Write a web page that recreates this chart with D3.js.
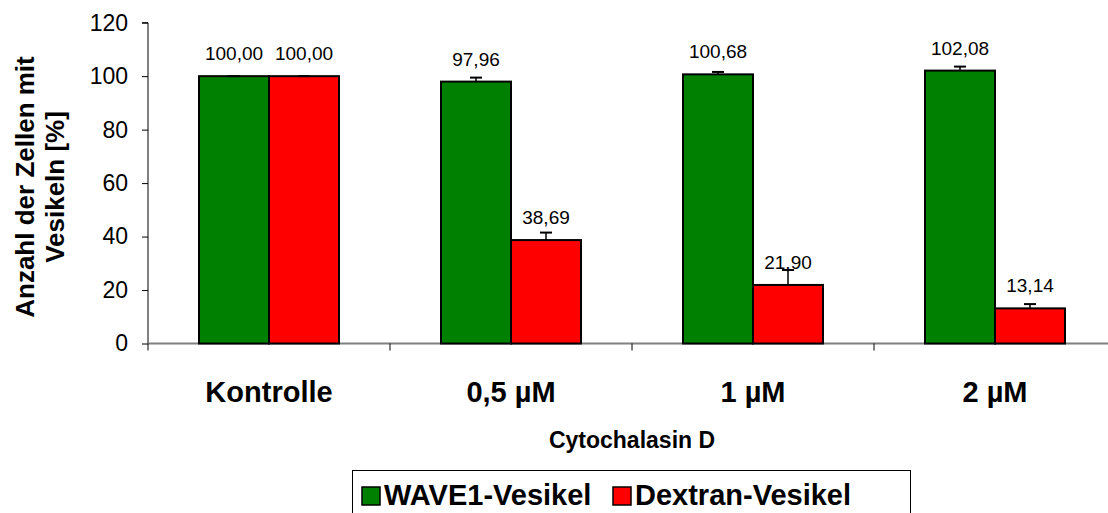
<!DOCTYPE html>
<html><head><meta charset="utf-8">
<script src="https://cdn.jsdelivr.net/npm/d3@7"></script>
<style>body{margin:0;background:#fff}svg{display:block}text{font-family:Arial,"Liberation Sans",sans-serif}</style>
</head><body>
<svg id="c" width="1108" height="513"></svg>
<script>
const categories = ["Kontrolle", "0,5 µM", "1 µM", "2 µM"];
const seriesNames = ["WAVE1-Vesikel", "Dextran-Vesikel"];
const wave1 = [100.00, 97.96, 100.68, 102.08];
const dextran = [100.00, 38.69, 21.90, 13.14];
const wave1Err = [0, 1.5, 0.9, 1.5];
const dextranErr = [0, 2.8, 5.6, 1.6];
const yTicks = [0, 20, 40, 60, 80, 100, 120];
const colors = ["#008000", "#ff0000"];

const svg = d3.select("#c");
const left = 148, catW = 242, y0 = 343.5, yTop = 22.7;
const x = d3.scaleBand().domain(categories).range([left, left + catW * categories.length]).paddingInner(0).paddingOuter(0);
const xs = d3.scaleBand().domain([0, 1]).range([0, 140]);
const y = d3.scaleLinear().domain([0, 120]).range([y0, yTop]);

// y axis
const ya = svg.append("g").attr("transform", `translate(${left},0)`)
  .call(d3.axisLeft(y).tickValues(yTicks).tickSize(6).tickPadding(14).tickFormat(d3.format("d")));
ya.select(".domain").attr("stroke", "#000").attr("d", `M-6,${y(120)}H0V${y(0)}`);
ya.selectAll(".tick line").attr("stroke", "#000");
ya.selectAll(".tick text").attr("font-size", 23).attr("fill", "#000").attr("font-family", "Arial, 'Liberation Sans', sans-serif");

// x axis
svg.append("line").attr("x1", left).attr("x2", 1108).attr("y1", y0).attr("y2", y0).attr("stroke", "#808080").attr("stroke-width", 2);
const ticksX = categories.map(c => x(c)).concat([x(categories[3]) + catW]);
svg.selectAll(".xt").data(ticksX).join("line").attr("x1", d => d).attr("x2", d => d)
  .attr("y1", y0).attr("y2", y0 + 7).attr("stroke", "#000");
svg.selectAll(".xl").data(categories).join("text")
  .attr("x", d => x(d) + catW / 2).attr("y", 402).attr("text-anchor", "middle")
  .attr("font-size", 29).attr("font-weight", "bold").text(d => d);

svg.append("text").attr("x", 632).attr("y", 448).attr("text-anchor", "middle")
  .attr("font-size", 23).attr("font-weight", "bold").text("Cytochalasin D");

// y title
const yt = svg.append("text").attr("transform", "translate(0,187) rotate(-90)")
  .attr("text-anchor", "middle").attr("font-size", 26).attr("font-weight", "bold");
yt.append("tspan").attr("x", 0).attr("y", 34).text("Anzahl der Zellen mit");
yt.append("tspan").attr("x", 0).attr("y", 64).text("Vesikeln [%]");

// bars
const data = [];
categories.forEach((c, i) => {
  data.push({ c, s: 0, v: wave1[i], e: wave1Err[i] });
  data.push({ c, s: 1, v: dextran[i], e: dextranErr[i] });
});
const cx0 = c => x(c) + (catW - 140) / 2;
svg.selectAll(".bar").data(data).join("rect")
  .attr("x", d => cx0(d.c) + xs(d.s)).attr("width", xs.bandwidth())
  .attr("y", d => y(d.v)).attr("height", d => y0 - y(d.v))
  .attr("fill", d => colors[d.s]).attr("stroke", "#000").attr("stroke-width", 2);

// error bars
const eb = svg.selectAll(".eb").data(data).join("g");
eb.append("line").attr("x1", d => cx0(d.c) + xs(d.s) + 35).attr("x2", d => cx0(d.c) + xs(d.s) + 35)
  .attr("y1", d => y(d.v)).attr("y2", d => y(d.v + d.e)).attr("stroke", "#000").attr("stroke-width", 1.5);
eb.append("line").attr("x1", d => cx0(d.c) + xs(d.s) + 29).attr("x2", d => cx0(d.c) + xs(d.s) + 41)
  .attr("y1", d => y(d.v + d.e)).attr("y2", d => y(d.v + d.e)).attr("stroke", "#000").attr("stroke-width", 2);

// value labels
const fmt = v => v.toFixed(2).replace(".", ",");
svg.selectAll(".vl").data(data).join("text")
  .attr("x", d => cx0(d.c) + xs(d.s) + 35).attr("y", d => y(d.v) - 16)
  .attr("text-anchor", "middle").attr("font-size", 19).text(d => fmt(d.v));

// legend
const lg = svg.append("g");
lg.append("rect").attr("x", 352.5).attr("y", 470.5).attr("width", 558).attr("height", 50)
  .attr("fill", "#fff").attr("stroke", "#000").attr("stroke-width", 1);
const legendX = [362, 613];
seriesNames.forEach((n, i) => {
  lg.append("rect").attr("x", legendX[i]).attr("y", 487).attr("width", 18).attr("height", 18)
    .attr("fill", colors[i]).attr("stroke", "#000").attr("stroke-width", 1.5);
  lg.append("text").attr("x", legendX[i] + 22).attr("y", 505).attr("font-size", 29).attr("font-weight", "bold").text(n);
});
</script>
</body></html>
